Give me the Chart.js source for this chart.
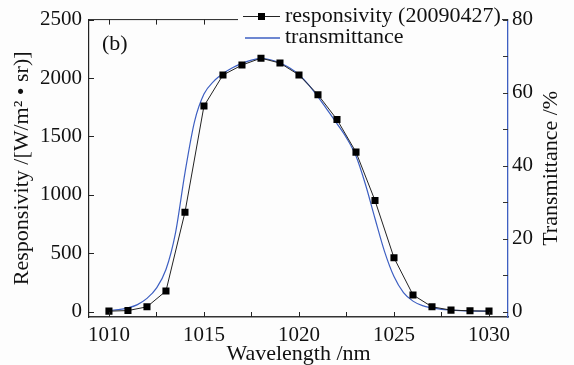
<!DOCTYPE html>
<html>
<head>
<meta charset="utf-8">
<script src="https://cdn.jsdelivr.net/npm/chart.js@4.4.1/dist/chart.umd.min.js"></script>
<style>
  body { margin: 0; background: #fdfdfd; }
  #wrap { width: 574px; height: 365px; position: relative; }
</style>
</head>
<body>
<div id="wrap"><canvas id="grafico"></canvas></div>
<script>
// datos
const longitudes = [1010, 1011, 1012, 1013, 1014, 1015, 1016, 1017, 1018, 1019, 1020,
  1021, 1022, 1023, 1024, 1025, 1026, 1027, 1028, 1029, 1030];
const responsividad = [5, 10, 42, 177, 851, 1760, 2026, 2111, 2170, 2128, 2026,
  1857, 1645, 1366, 952, 462, 144, 42, 14, 8, 5];

const longitudesTrans = [1010, 1010.5, 1011, 1011.5, 1012, 1012.5, 1013, 1013.5, 1014, 1014.5,
  1015, 1015.5, 1016, 1016.5, 1017, 1017.5, 1018, 1018.5, 1019, 1019.5, 1020,
  1020.5, 1021, 1021.5, 1022, 1022.5, 1023, 1023.5, 1024, 1024.5, 1025,
  1025.5, 1026, 1026.5, 1027, 1027.5, 1028, 1028.5, 1029, 1029.5, 1030];
const transmitancia = [0.3, 0.5, 1.0, 1.9, 3.6, 6.4, 11.5, 21.5, 38, 52,
  59.6, 63, 65.2, 66.8, 68, 68.9, 69.3, 69, 68.1, 66.8, 64.9,
  62.2, 58.8, 55.2, 51.5, 47.6, 42.6, 34.8, 25.5, 16.5, 9.6,
  5.2, 2.85, 1.6, 1.0, 0.6, 0.4, 0.25, 0.15, 0.1, 0.1];

const ticksX = [1010, 1015, 1020, 1025, 1030];
const ticksXMenores = [1012.5, 1017.5, 1022.5, 1027.5];
const ticksIzq = [0, 500, 1000, 1500, 2000, 2500];
const ticksDer = [0, 20, 40, 60, 80];
const ticksDerMenores = [10, 30, 50, 70];

const etiquetaResp = "responsivity (20090427)";
const etiquetaTrans = "transmittance";

const azul = "#3d5fc2";
const fuente = "'Liberation Serif', 'Times New Roman', serif";
Chart.defaults.font.family = fuente;
Chart.defaults.color = "#111";

// ticks hacia adentro, titulo derecho y leyenda
const extras = {
  id: "extras",
  afterDraw(chart) {
    const ctx = chart.ctx;
    const a = chart.chartArea;
    const sx = chart.scales.x, sy = chart.scales.y, sy2 = chart.scales.y2;
    ctx.save();
    ctx.lineWidth = 1;
    ctx.strokeStyle = "#222";
    // borde superior
    ctx.beginPath();
    ctx.moveTo(a.left, a.top);
    ctx.lineTo(a.right, a.top);
    ctx.stroke();
    const largo = 5;
    [...ticksX, ...ticksXMenores].forEach(v => {
      const px = Math.round(sx.getPixelForValue(v)) + 0.5;
      ctx.beginPath();
      ctx.moveTo(px, a.bottom);
      ctx.lineTo(px, a.bottom - largo);
      ctx.moveTo(px, a.top);
      ctx.lineTo(px, a.top + largo);
      ctx.stroke();
    });
    ticksIzq.forEach(v => {
      const py = Math.round(sy.getPixelForValue(v)) + 0.5;
      ctx.beginPath();
      ctx.moveTo(a.left, py);
      ctx.lineTo(a.left + largo, py);
      ctx.stroke();
    });
    ctx.strokeStyle = "#333";
    [...ticksDer, ...ticksDerMenores].forEach(v => {
      const py = Math.round(sy2.getPixelForValue(v)) + 0.5;
      ctx.beginPath();
      ctx.moveTo(a.right, py);
      ctx.lineTo(a.right - largo, py);
      ctx.stroke();
    });

    // titulo eje derecho
    ctx.fillStyle = "#111";
    ctx.font = "22px " + fuente;
    ctx.textAlign = "center";
    ctx.textBaseline = "middle";
    ctx.save();
    ctx.translate(551, (a.top + a.bottom) / 2);
    ctx.rotate(-Math.PI / 2);
    ctx.fillText("Transmittance /%", 0, 0);
    ctx.restore();

    // (b)
    ctx.textAlign = "left";
    ctx.fillText("(b)", 102, 44);

    // leyenda
    ctx.fillStyle = "#fdfdfd";
    ctx.fillRect(238, 0, 264, 47);
    ctx.strokeStyle = "#222";
    ctx.beginPath();
    ctx.moveTo(243, 16.5);
    ctx.lineTo(280, 16.5);
    ctx.stroke();
    ctx.fillStyle = "#000";
    ctx.fillRect(258, 13, 7, 7);
    ctx.strokeStyle = azul;
    ctx.lineWidth = 1.3;
    ctx.beginPath();
    ctx.moveTo(245, 38);
    ctx.lineTo(280, 38);
    ctx.stroke();
    ctx.fillStyle = "#111";
    ctx.fillText(etiquetaResp, 285, 16);
    ctx.fillText(etiquetaTrans, 285, 37);
    ctx.restore();
  }
};

new Chart(document.getElementById("grafico"), {
  type: "line",
  data: {
    datasets: [
      {
        label: etiquetaResp,
        data: longitudes.map((x, i) => ({ x, y: responsividad[i] })),
        borderColor: "#222",
        borderWidth: 1,
        pointStyle: "rect",
        pointRadius: 5,
        pointBackgroundColor: "#000",
        pointBorderWidth: 0,
        yAxisID: "y"
      },
      {
        label: etiquetaTrans,
        data: longitudesTrans.map((x, i) => ({ x, y: transmitancia[i] })),
        borderColor: azul,
        borderWidth: 1.2,
        pointRadius: 0,
        cubicInterpolationMode: "monotone",
        yAxisID: "y2"
      }
    ]
  },
  options: {
    responsive: true,
    maintainAspectRatio: false,
    animation: false,
    layout: { padding: { top: 16 } },
    plugins: { legend: { display: false }, tooltip: { enabled: false } },
    scales: {
      x: {
        type: "linear",
        min: 1008.95,
        max: 1031,
        afterBuildTicks: s => { s.ticks = ticksX.map(v => ({ value: v })); },
        afterFit: s => { s.height = 48; },
        grid: { display: false, drawTicks: false },
        border: { display: true, color: "#333", width: 1.5 },
        ticks: { font: { size: 21 }, padding: 6, color: "#111", callback: v => v },
        title: { display: true, text: "Wavelength /nm", font: { size: 22 }, color: "#111", padding: { top: 0, bottom: -2 } }
      },
      y: {
        position: "left",
        min: -45,
        max: 2500,
        afterBuildTicks: s => { s.ticks = ticksIzq.map(v => ({ value: v })); },
        afterFit: s => { s.width = 89; },
        grid: { display: false, drawTicks: false },
        border: { display: true, color: "#222", width: 1.2 },
        ticks: { font: { size: 21 }, padding: 7, color: "#111", callback: v => v },
        title: { display: true, text: "Responsivity /[W/m² • sr)]", font: { size: 22 }, color: "#111", padding: { top: 9, bottom: 0 } }
      },
      y2: {
        position: "right",
        min: -1.5,
        max: 80,
        afterBuildTicks: s => { s.ticks = ticksDer.map(v => ({ value: v })); },
        afterFit: s => { s.width = 66; },
        grid: { display: false, drawTicks: false },
        border: { display: true, color: azul, width: 1.3 },
        ticks: { font: { size: 21 }, padding: 4, color: "#111", callback: v => v }
      }
    }
  },
  plugins: [extras]
});
</script>
</body>
</html>
